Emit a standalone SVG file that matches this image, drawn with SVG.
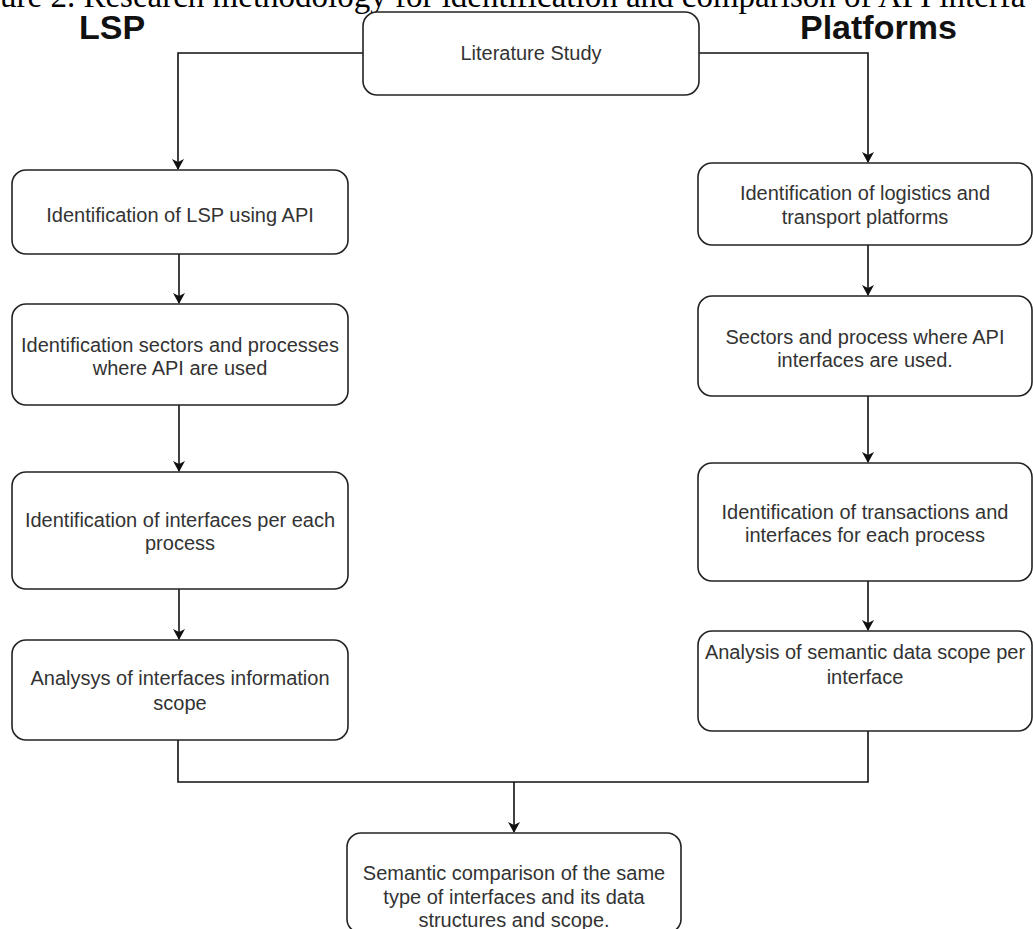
<svg xmlns="http://www.w3.org/2000/svg" width="1033" height="929" viewBox="0 0 1033 929">
<style>
.box{fill:#fff;stroke:#222;stroke-width:1.6}
.t{font-family:"Liberation Sans",Arial,sans-serif;font-size:20px;fill:#333;text-anchor:middle}
.h{font-family:"Liberation Sans",Arial,sans-serif;font-size:34px;font-weight:bold;fill:#111}
.cap{font-family:"Liberation Serif","Times New Roman",serif;font-size:33px;fill:#000}
.c{fill:none;stroke:#111;stroke-width:1.6}
</style>
<defs>
<marker id="arr" markerWidth="12" markerHeight="12" refX="10" refY="6" orient="auto" markerUnits="userSpaceOnUse">
<path d="M0,0 L11,6 L0,12 L3,6 z" fill="#111"/>
</marker>
</defs>
<rect width="1033" height="929" fill="#fff"/>
<text class="cap" x="0" y="7">ure 2. Research methodology for identification and comparison of API interfa</text>
<text class="h" x="79" y="39">LSP</text>
<text class="h" x="800" y="39">Platforms</text>
<g id="connectors">
<path class="c" d="M363,53 H178 V169" marker-end="url(#arr)"/>
<path class="c" d="M699,53 H868 V162" marker-end="url(#arr)"/>
<path class="c" d="M179,254 V303" marker-end="url(#arr)"/>
<path class="c" d="M179,405 V471" marker-end="url(#arr)"/>
<path class="c" d="M179,589 V639" marker-end="url(#arr)"/>
<path class="c" d="M868,245 V295" marker-end="url(#arr)"/>
<path class="c" d="M868,396 V462" marker-end="url(#arr)"/>
<path class="c" d="M868,581 V630" marker-end="url(#arr)"/>
<path class="c" d="M178,740 V782 H868 V731"/>
<path class="c" d="M514,782 V832" marker-end="url(#arr)"/>
</g>
<g id="literature">
<rect class="box" x="363" y="12" width="336" height="83" rx="14"/>
<text class="t" x="531" y="60">Literature Study</text>
</g>
<g id="lsp1">
<rect class="box" x="12" y="170" width="336" height="84" rx="14"/>
<text class="t" x="180" y="222">Identification of LSP using API</text>
</g>
<g id="lsp2">
<rect class="box" x="12" y="304" width="336" height="101" rx="14"/>
<text class="t" x="180" y="352">Identification sectors and processes</text>
<text class="t" x="180" y="375">where API are used</text>
</g>
<g id="lsp3">
<rect class="box" x="12" y="472" width="336" height="117" rx="14"/>
<text class="t" x="180" y="527">Identification of interfaces per each</text>
<text class="t" x="180" y="550">process</text>
</g>
<g id="lsp4">
<rect class="box" x="12" y="640" width="336" height="100" rx="14"/>
<text class="t" x="180" y="685">Analysys of interfaces information</text>
<text class="t" x="180" y="710">scope</text>
</g>
<g id="plat1">
<rect class="box" x="698" y="163" width="334" height="82" rx="14"/>
<text class="t" x="865" y="200">Identification of logistics and</text>
<text class="t" x="865" y="224">transport platforms</text>
</g>
<g id="plat2">
<rect class="box" x="698" y="296" width="334" height="100" rx="14"/>
<text class="t" x="865" y="344">Sectors and process where API</text>
<text class="t" x="865" y="367">interfaces are used.</text>
</g>
<g id="plat3">
<rect class="box" x="698" y="463" width="334" height="118" rx="14"/>
<text class="t" x="865" y="519">Identification of transactions and</text>
<text class="t" x="865" y="542">interfaces for each process</text>
</g>
<g id="plat4">
<rect class="box" x="698" y="631" width="334" height="100" rx="14"/>
<text class="t" x="865" y="659">Analysis of semantic data scope per</text>
<text class="t" x="865" y="684">interface</text>
</g>
<g id="comparison">
<rect class="box" x="347" y="833" width="334" height="100" rx="14"/>
<text class="t" x="514" y="880">Semantic comparison of the same</text>
<text class="t" x="514" y="904">type of interfaces and its data</text>
<text class="t" x="514" y="927">structures and scope.</text>
</g>
</svg>
